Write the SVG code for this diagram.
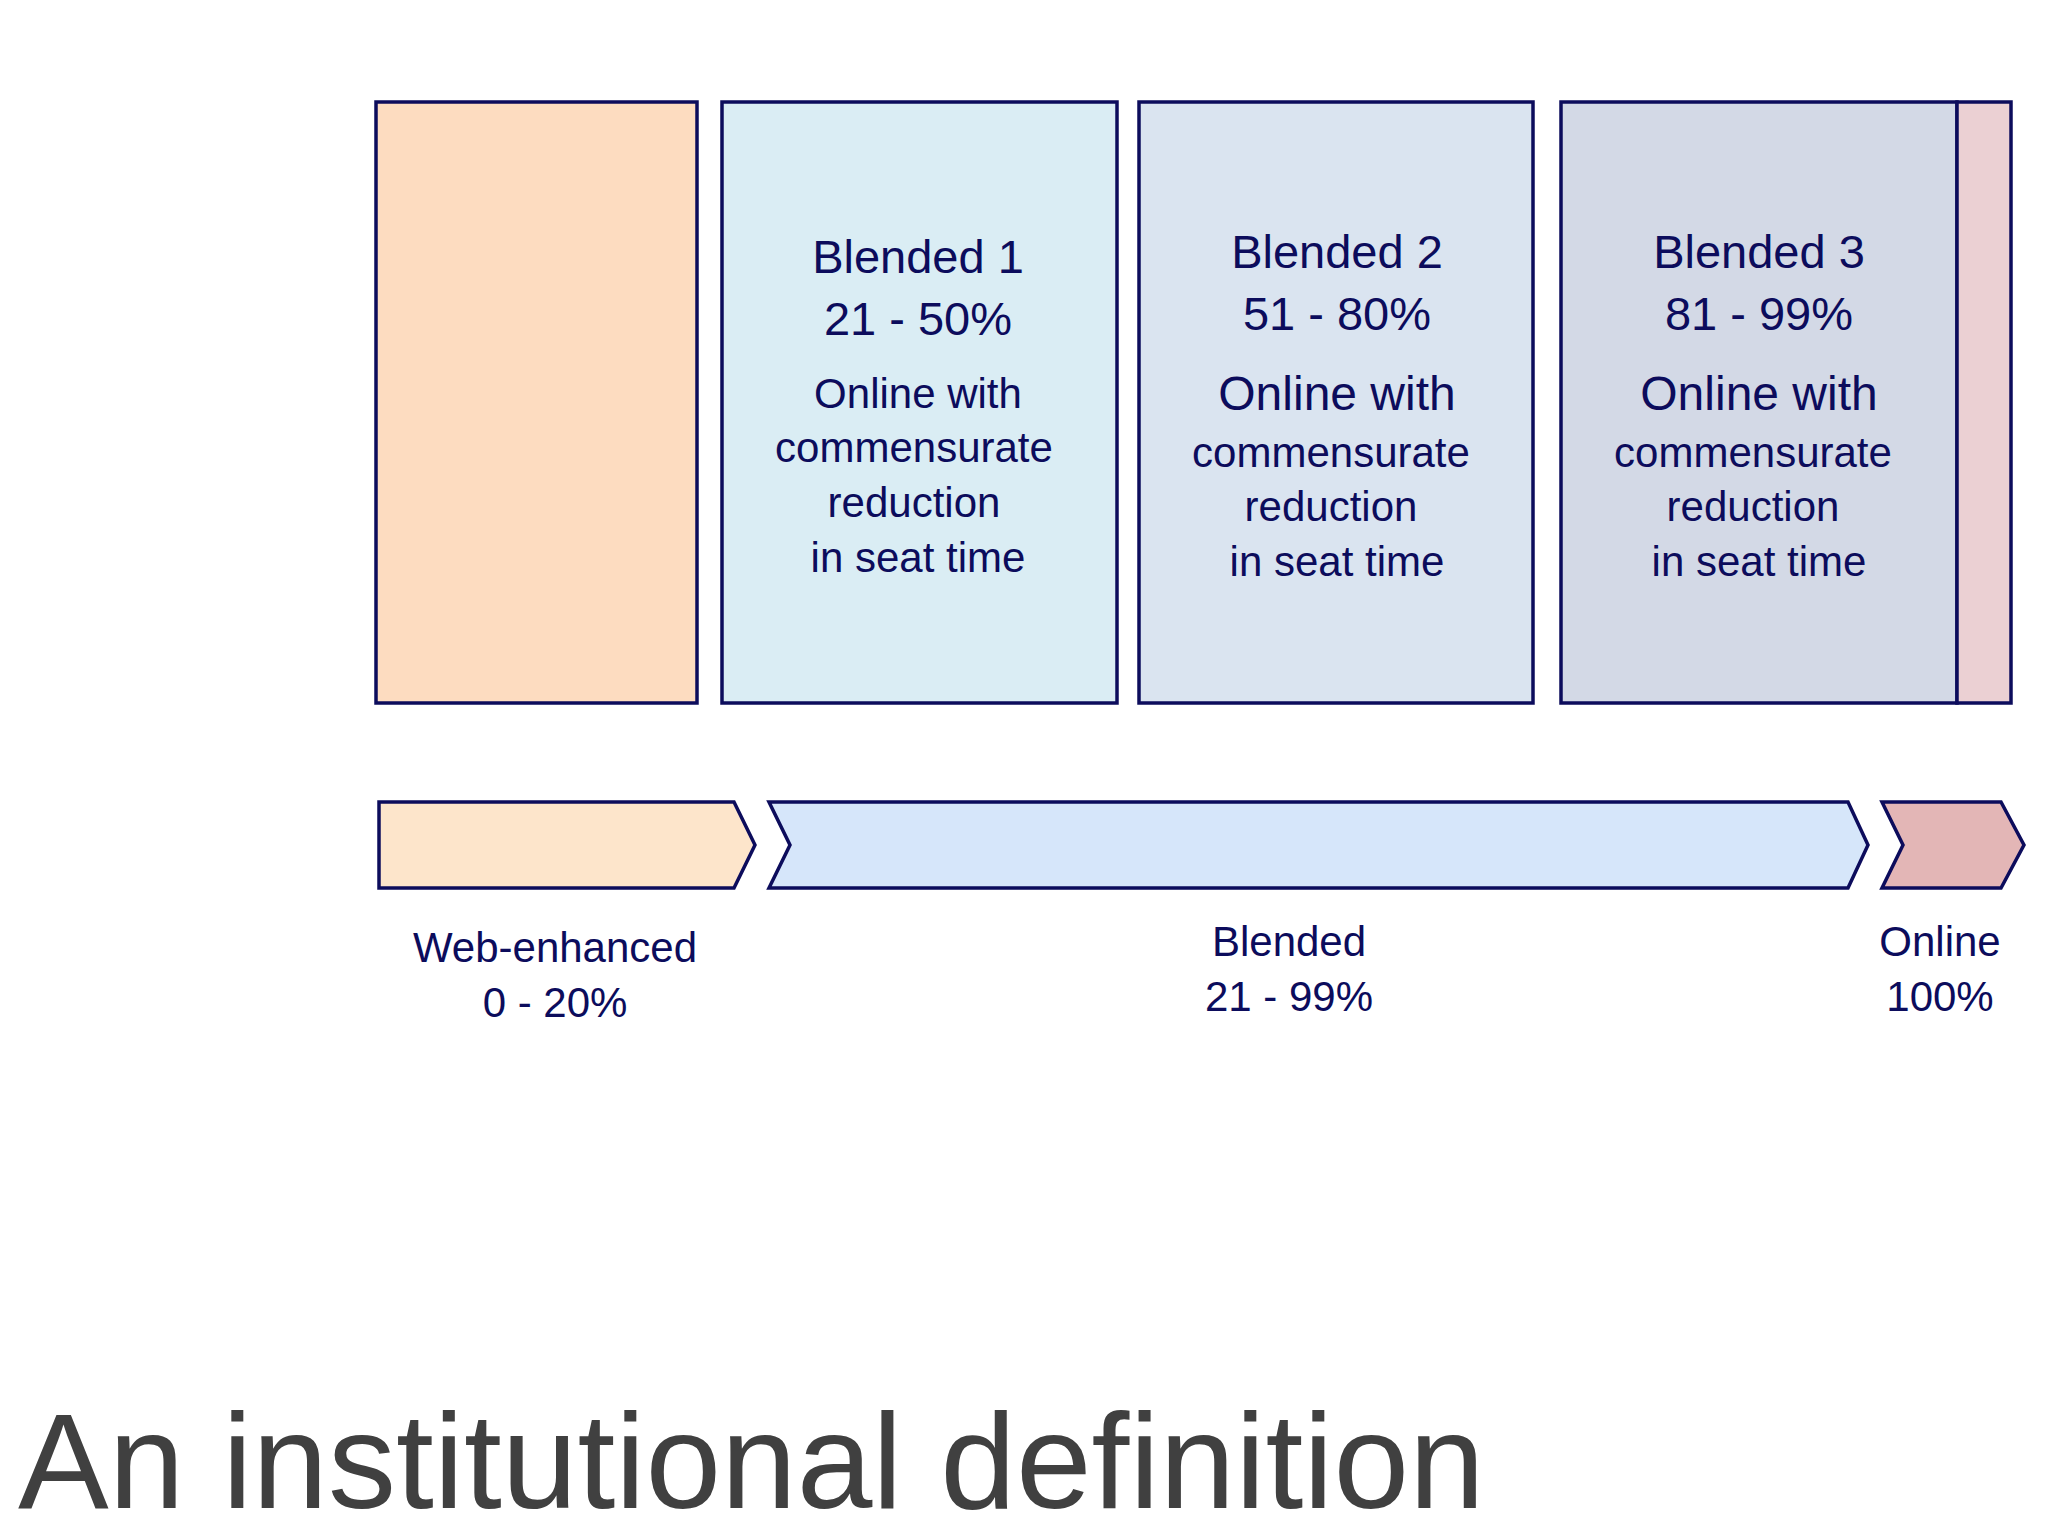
<svg xmlns="http://www.w3.org/2000/svg" width="2048" height="1536" viewBox="0 0 2048 1536">
<style>
.b{stroke:#0c0c5c;stroke-width:3.5}
text{font-family:"Liberation Sans",Arial,sans-serif;fill:#0c0c5c;text-anchor:middle}
.h{font-size:47px}.s{font-size:42px}.m{font-size:48px}
</style>
<rect width="2048" height="1536" fill="#fff"/>
<g id="box-web"><rect class="b" x="376" y="102" width="321" height="601" fill="#fddcc0"/></g>
<g id="box-b1"><rect class="b" x="722" y="102" width="395" height="601" fill="#daedf4"/>
<text class="h" x="918" y="273">Blended 1</text><text class="h" x="918" y="335">21 - 50%</text>
<text class="s" x="918" y="408">Online with</text><text class="s" x="914" y="462">commensurate</text><text class="s" x="914" y="517">reduction</text><text class="s" x="918" y="572">in seat time</text></g>
<g id="box-b2"><rect class="b" x="1139" y="102" width="394" height="601" fill="#dae4f0"/>
<text class="h" x="1337" y="268">Blended 2</text><text class="h" x="1337" y="330">51 - 80%</text>
<text class="m" x="1337" y="410">Online with</text><text class="s" x="1331" y="467">commensurate</text><text class="s" x="1331" y="521">reduction</text><text class="s" x="1337" y="576">in seat time</text></g>
<g id="box-b3"><rect class="b" x="1561" y="102" width="396" height="601" fill="#d3d9e6"/>
<text class="h" x="1759" y="268">Blended 3</text><text class="h" x="1759" y="330">81 - 99%</text>
<text class="m" x="1759" y="410">Online with</text><text class="s" x="1753" y="467">commensurate</text><text class="s" x="1753" y="521">reduction</text><text class="s" x="1759" y="576">in seat time</text></g>
<g id="box-online"><rect class="b" x="1957" y="102" width="54" height="601" fill="#ebd0d3"/></g>
<g id="chev-web"><polygon class="b" points="379,802 734,802 755,845 734,888 379,888" fill="#fde5cb"/>
<text class="s" x="555" y="962">Web-enhanced</text><text class="s" x="555" y="1017">0 - 20%</text></g>
<g id="chev-blended"><polygon class="b" points="769,802 1848,802 1868,845 1848,888 769,888 790,845" fill="#d6e6fa"/>
<text class="s" x="1289" y="956">Blended</text><text class="s" x="1289" y="1011">21 - 99%</text></g>
<g id="chev-online"><polygon class="b" points="1882,802 2001,802 2024,845 2001,888 1882,888 1903,845" fill="#e3b6b6"/>
<text class="s" x="1940" y="956">Online</text><text class="s" x="1940" y="1011">100%</text></g>
<g id="connectors"/>
<text x="18" y="1508" style="font-size:136px;fill:#404040;text-anchor:start">An institutional definition</text>
</svg>
